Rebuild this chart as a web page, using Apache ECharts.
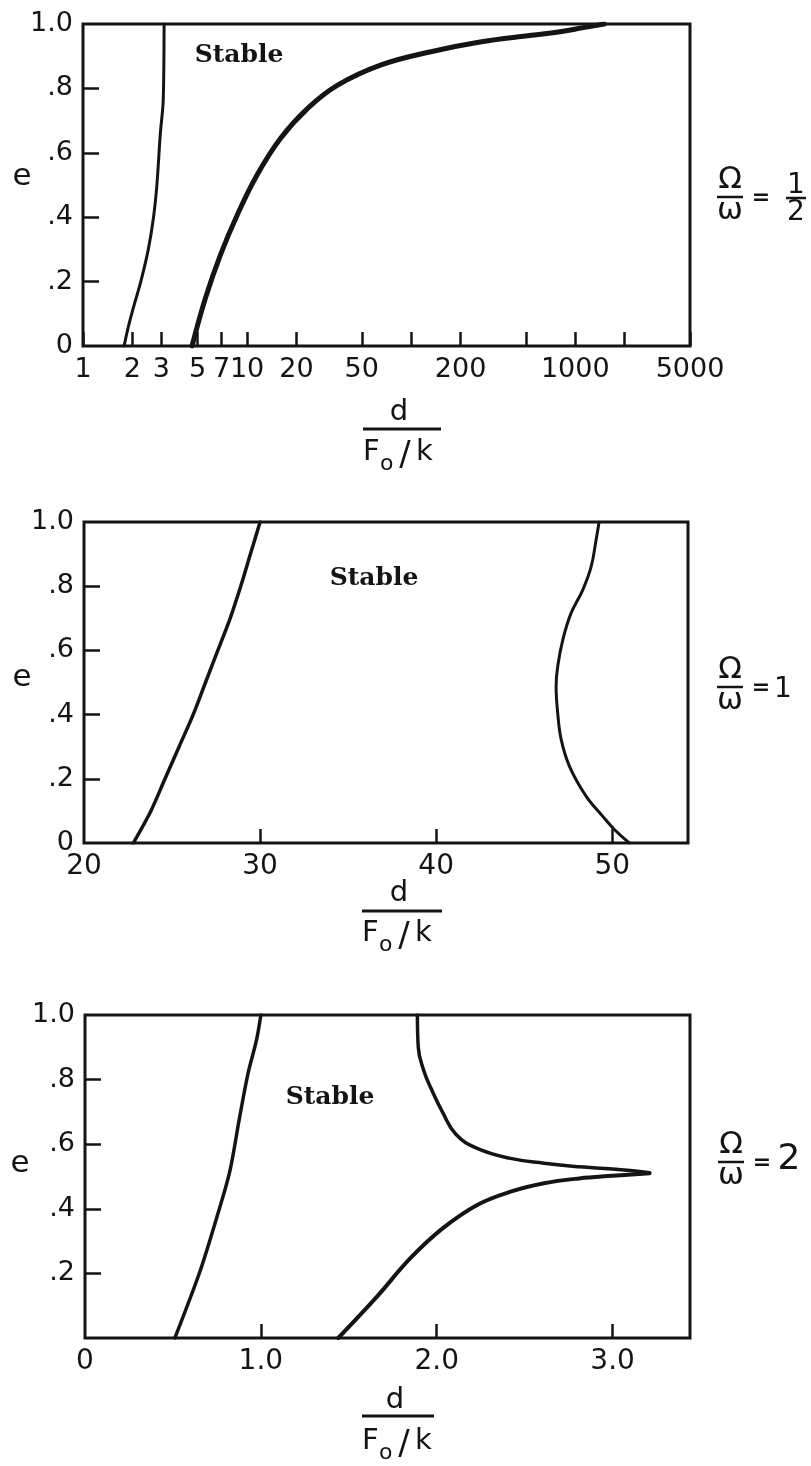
<!DOCTYPE html>
<html>
<head>
<meta charset="utf-8">
<script src="https://cdn.jsdelivr.net/npm/echarts@6/dist/echarts.min.js"></script>
<style>
  html, body { margin: 0; padding: 0; background: #fff; }
  #chart { width: 811px; height: 1466px; }
</style>
</head>
<body>
<div id="chart"></div>
<script>
// ---------- data ----------
// e axis (shared by all three panels)
const eTickValues = [0.2, 0.4, 0.6, 0.8];
const eLabelValues = [0, 0.2, 0.4, 0.6, 0.8, 1.0];

// Panel 1: Omega/omega = 1/2, d/(F0/k) on a logarithmic scale
const p1TickValues = [1, 2, 3, 5, 7, 10, 20, 50, 100, 200, 500, 1000, 2000, 5000];
const p1LabelValues = [1, 2, 3, 5, 7, 10, 20, 50, 200, 1000, 5000];
const p1LeftD  = [1.78, 1.89, 2.03, 2.25, 2.50, 2.69, 2.82, 2.96, 3.08, 3.12];
const p1LeftE  = [0, 0.06, 0.12, 0.20, 0.30, 0.40, 0.50, 0.66, 0.76, 1.0];
const p1RightD = [4.62, 5.57, 6.88, 8.71, 11.5, 16.0, 23.4, 35.6, 65.6, 132, 268, 542, 827, 1100, 1500];
const p1RightE = [0, 0.148, 0.283, 0.407, 0.531, 0.645, 0.738, 0.81, 0.873, 0.914, 0.945, 0.965, 0.977, 0.988, 1.0];

// Panel 2: Omega/omega = 1
const p2TickValues = [30, 40, 50];
const p2LabelValues = [20, 30, 40, 50];
const p2LeftD  = [22.8, 23.8, 24.6, 25.4, 26.2, 26.9, 27.6, 28.3, 28.9, 29.45, 30.0];
const p2LeftE  = [0, 0.1, 0.2, 0.3, 0.4, 0.5, 0.6, 0.7, 0.8, 0.9, 1.0];
const p2RightD = [49.25, 49.08, 48.80, 48.32, 47.66, 47.19, 46.90, 46.81, 46.90, 47.10, 47.57, 48.51, 49.46, 50.12, 50.97];
const p2RightE = [1.0, 0.944, 0.861, 0.788, 0.716, 0.633, 0.55, 0.488, 0.405, 0.322, 0.239, 0.146, 0.083, 0.042, 0];

// Panel 3: Omega/omega = 2
const p3TickValues = [1, 2, 3];
const p3LabelValues = [0, 1, 2, 3];
const p3LeftD  = [0.511, 0.653, 0.748, 0.823, 0.880, 0.927, 0.975, 1.0];
const p3LeftE  = [0, 0.205, 0.371, 0.515, 0.686, 0.819, 0.922, 1.0];
const p3UpperD = [1.89, 1.895, 1.925, 1.97, 2.035, 2.11, 2.23, 2.42, 2.61, 2.81, 3.0, 3.21];
const p3UpperE = [1.0, 0.90, 0.83, 0.77, 0.697, 0.63, 0.587, 0.556, 0.541, 0.530, 0.523, 0.512];
const p3LowerD = [1.44, 1.66, 1.85, 2.035, 2.23, 2.42, 2.61, 2.81, 3.0, 3.21];
const p3LowerE = [0, 0.128, 0.247, 0.34, 0.412, 0.453, 0.479, 0.494, 0.502, 0.51];

// ---------- styling ----------
const INK = '#141414';
const SANS = 'DejaVu Sans';
const SERIF = 'DejaVu Serif';

const pair = (xs, ys, fx) => xs.map((x, i) => [fx ? fx(x) : x, ys[i]]);
const log10 = v => Math.log10(v);

function fmtE(v) {
  if (Math.abs(v - 1) < 1e-9) return '1.0';
  if (Math.abs(v) < 1e-9) return '0';
  return '.' + Math.round(v * 10);
}

function yAxisFor(gi, labels) {
  return {
    type: 'value', gridIndex: gi, min: 0, max: 1, interval: 0.2,
    axisLine: { show: false },
    axisTick: { show: true, inside: true, length: 16, customValues: eTickValues,
                lineStyle: { color: INK, width: 2.5 } },
    axisLabel: { color: INK, fontFamily: SANS, fontSize: 27, margin: 10,
                 customValues: labels, formatter: fmtE },
    splitLine: { show: false }
  };
}

function xAxisFor(gi, min, max, ticks, labels, fmt, size) {
  return {
    type: 'value', gridIndex: gi, min: min, max: max,
    axisLine: { show: false },
    axisTick: { show: true, inside: true, length: 14, customValues: ticks,
                lineStyle: { color: INK, width: 2.5 } },
    axisLabel: { color: INK, fontFamily: SANS, fontSize: size || 28, margin: 10,
                 customValues: labels, formatter: fmt },
    splitLine: { show: false }
  };
}

function curve(gi, data, width, smooth) {
  return {
    type: 'line', xAxisIndex: gi, yAxisIndex: gi, data: data,
    showSymbol: false, smooth: smooth || 0.3, silent: true,
    lineStyle: { color: INK, width: width, cap: 'round', join: 'round' }
  };
}

// ---------- text helpers (graphic elements) ----------
function txt(x, y, text, size, opts) {
  opts = opts || {};
  return {
    type: 'text', x: x, y: y, silent: true,
    style: {
      text: text, fill: INK, fontSize: size,
      fontFamily: opts.family || SANS, fontWeight: opts.weight || 'normal',
      align: opts.align || 'center', verticalAlign: 'middle'
    }
  };
}
function bar(x1, x2, y, w) {
  return { type: 'line', silent: true, shape: { x1: x1, y1: y, x2: x2, y2: y },
           style: { stroke: INK, lineWidth: w || 2.5 } };
}

// d over F0/k
function dTitle(x0, x1, yD, yBar, yF) {
  const cx = (x0 + x1) / 2;
  return [
    txt(cx - 3, yD, 'd', 29),
    bar(x0, x1, yBar, 3),
    txt(x0, yF, 'F', 29, { align: 'left' }),
    txt(x0 + 17, yF + 12, 'o', 22, { align: 'left' }),
    txt(x0 + 42, yF + 4, '/', 34),
    txt(x0 + 53, yF, 'k', 29, { align: 'left' })
  ];
}

// Omega over omega = rhs
function ratioLabel(cx, yBar, rhs) {
  const out = [
    txt(cx, yBar - 17, 'Ω', 31),
    bar(cx - 13, cx + 13, yBar, 2.5),
    txt(cx, yBar + 14, 'ω', 31),
    txt(cx + 31, yBar + 1, '=', 22, { weight: 'bold' })
  ];
  return out.concat(rhs);
}

const graphics = [].concat(
  // panel 1
  txt(22, 177, 'e', 31),
  txt(239, 55, 'Stable', 25, { family: SERIF, weight: 'bold' }),
  dTitle(363, 441, 412, 429, 452),
  ratioLabel(730, 197, [
    txt(796, 186, '1', 28), bar(786, 806, 198, 2.5), txt(796, 213, '2', 28)
  ]),
  // panel 2
  txt(22, 678, 'e', 31),
  txt(374, 578, 'Stable', 25, { family: SERIF, weight: 'bold' }),
  dTitle(362, 442, 893, 911, 933),
  ratioLabel(730, 687, [ txt(783, 690, '1', 28) ]),
  // panel 3
  txt(20, 1164, 'e', 31),
  txt(330, 1097, 'Stable', 25, { family: SERIF, weight: 'bold' }),
  dTitle(362, 434, 1400, 1416, 1441),
  ratioLabel(731, 1162, [ txt(789, 1160, '2', 36) ])
);

const gridBase = { show: true, borderColor: INK, borderWidth: 3, backgroundColor: 'transparent', containLabel: false };

const option = {
  backgroundColor: '#ffffff',
  animation: false,
  grid: [
    Object.assign({ left: 83, top: 24, width: 607, height: 322 }, gridBase),
    Object.assign({ left: 84, top: 522, width: 604, height: 321 }, gridBase),
    Object.assign({ left: 85, top: 1015, width: 605, height: 323 }, gridBase)
  ],
  xAxis: [
    xAxisFor(0, 0, log10(5000), p1TickValues.map(log10), p1LabelValues.map(log10),
             v => String(Math.round(Math.pow(10, v))), 27),
    xAxisFor(1, 20, 54.3, p2TickValues, p2LabelValues, v => String(Math.round(v))),
    xAxisFor(2, 0, 3.44, p3TickValues, p3LabelValues, v => (v === 0 ? '0' : v.toFixed(1)))
  ],
  yAxis: [
    yAxisFor(0, eLabelValues),
    yAxisFor(1, eLabelValues),
    yAxisFor(2, eLabelValues.filter(v => v !== 0))
  ],
  series: [
    curve(0, pair(p1LeftD, p1LeftE, log10), 3),
    curve(0, pair(p1RightD, p1RightE, log10), 5, 0.4),
    curve(1, pair(p2LeftD, p2LeftE), 3.5),
    curve(1, pair(p2RightD, p2RightE), 3, 0.4),
    curve(2, pair(p3LeftD, p3LeftE), 3.5),
    curve(2, pair(p3UpperD, p3UpperE), 3.5, 0.45),
    curve(2, pair(p3LowerD, p3LowerE), 4, 0.4)
  ],
  graphic: { elements: graphics }
};

const chart = echarts.init(document.getElementById('chart'), null, { renderer: 'canvas' });
chart.setOption(option);
</script>
</body>
</html>
